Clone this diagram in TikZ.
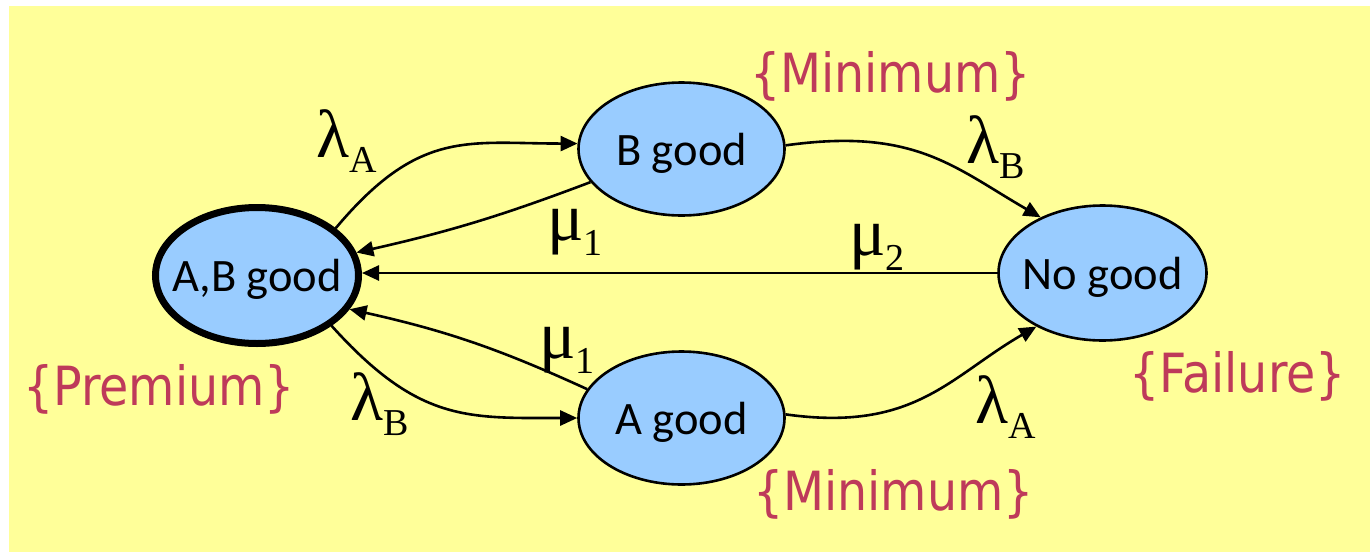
\documentclass[tikz,border=0pt]{standalone}
\usepackage{fontspec}
\usepackage{graphicx}
\setmainfont{Carlito}
\newfontfamily\gkfont{Liberation Serif}
\newfontfamily\lblfont{DejaVu Sans}
\usetikzlibrary{arrows.meta,shapes.geometric}
\definecolor{bgyellow}{HTML}{FFFF99}
\definecolor{stateblue}{HTML}{99CCFF}
\definecolor{lblred}{RGB}{190,58,90}
\newcommand{\gr}[2]{{\gkfont\fontsize{68}{68}\selectfont #1\raisebox{-15pt}{\fontsize{38}{38}\selectfont #2}}}
\newcommand{\attrtext}[1]{\scalebox{0.88}[1]{\lblfont\fontsize{54}{54}\selectfont #1}}
\tikzset{
  state/.style={ellipse, draw=black, fill=stateblue, line width=2.6pt, inner ysep=0pt, inner xsep=-40pt,
    minimum width=206pt, minimum height=133pt, font=\fontsize{46.5}{46.5}\selectfont, text depth=0pt},
  startstate/.style={state, line width=7pt, minimum width=203pt, minimum height=136pt},
  conn/.style={line width=2.6pt, -{Triangle[length=17pt,width=15pt]}},
  attr/.style={anchor=base west, inner sep=0pt, text=lblred},
  rate/.style={anchor=base west, inner sep=0pt}
}
\begin{document}
\begin{tikzpicture}[x=1pt,y=1pt]
\useasboundingbox (0,0) rectangle (1370,-552);
\fill[bgyellow] (9,-6) rectangle (1370,-552);

\node[startstate] (ab) at (257,-275.5) {A,B good};
\node[state] (bg) at (681.5,-149) {B good};
\node[state] (ag) at (681.5,-418) {A good};
\node[state, minimum width=208pt, minimum height=135pt] (ng) at (1102.5,-273) {No good};

\draw[conn] (ab.31.4) .. controls +(50:130) and +(180:110) .. (bg.177.8);
\draw[conn] (bg.200.5) to[bend left=4] (ab.13.3);
\draw[conn] (bg.2.1) .. controls +(8:130) and +(150:100) .. (ng.138.9);
\draw[conn] (ng.west) -- (ng.west -| ab.east);
\draw[conn] (ag.163.2) to[bend right=6] (ab.-20.6);
\draw[conn] (ab.-34) .. controls +(-48:130) and +(180:110) .. (ag.180);
\draw[conn] (ag.2.2) .. controls +(-8:130) and +(210:100) .. (ng.219.2);

\node[rate] (la1) at (316,-157) {\gr{λ}{A}};
\node[rate] (mu1) at (547,-240) {\gr{μ}{1}};
\node[rate] (mu2) at (849,-255) {\gr{μ}{2}};
\node[rate] (lb1) at (966,-163) {\gr{λ}{B}};
\node[rate] (mu3) at (539,-358) {\gr{μ}{1}};
\node[rate] (lb2) at (350,-420) {\gr{λ}{B}};
\node[rate] (la2) at (975,-423) {\gr{λ}{A}};

\node[attr] (mintop) at (750,-92) {\attrtext{\{Minimum\}}};
\node[attr] (minbot) at (753,-510) {\attrtext{\{Minimum\}}};
\node[attr] (prem) at (23,-405) {\attrtext{\{Premium\}}};
\node[attr] (fail) at (1129,-392) {\attrtext{\{Failure\}}};
\end{tikzpicture}
\end{document}
